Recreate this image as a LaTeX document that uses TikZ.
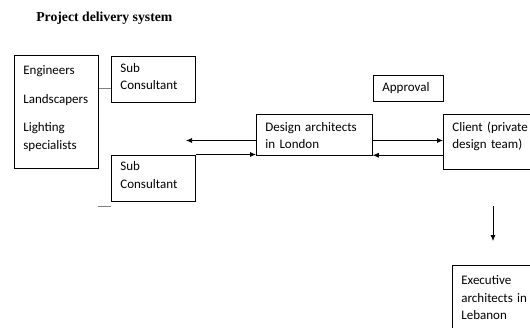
\documentclass[tikz,border=0pt]{standalone}
\usepackage{fontspec}
\setmainfont{Carlito}
\newfontfamily\titlefont{Liberation Serif}
\usepackage{tikz}
\usetikzlibrary{arrows.meta}

\begin{document}
\begin{tikzpicture}[x=1pt,y=-1pt,>={Latex[length=6pt,width=5pt]},line width=0.75pt]
        \tikzstyle{box}=[draw=black,anchor=north west,align=left,inner xsep=9pt,inner ysep=0pt,
            font=\fontsize{13}{17.5}\selectfont]
        \tikzstyle{link}=[draw=gray]
        \useasboundingbox (0,0) rectangle (530,327);

        \node[anchor=base west,inner sep=0pt,font=\titlefont\bfseries\fontsize{13.7}{16}\selectfont] (title) at (36,21) {Project delivery system};

        \node[box,text width=66pt,text height=19.5pt,text depth=93.5pt] (team) at (14,55) {Engineers\\[11pt]Landscapers\\[11pt]Lighting\\specialists};
        \node[box,text width=66pt,text height=16pt,text depth=30pt] (sub1) at (111,56) {Sub\\Consultant};
        \node[box,text width=66pt,text height=16pt,text depth=30.5pt] (sub2) at (111,154.5) {Sub\\Consultant};
        \node[box,text width=98pt,text height=17pt,text depth=23.5pt] (design) at (256,114) {Design architects\\in London};
        \node[box,text width=52pt,text height=16pt,text depth=10pt] (approval) at (373,75) {Approval};
        \node[box,text width=100pt,text height=17pt,text depth=38pt] (client) at (443,114) {Client (private\\design team)};
        \node[box,text width=90pt,text height=19.5pt,text depth=70pt] (exec) at (452,265) {Executive\\architects in\\Lebanon};

        \coordinate (tipL) at (186,140.5);
        \coordinate (down1) at (493,206);
        \coordinate (down2) at (493,241);
        \coordinate (mark1) at (98,206);
        \coordinate (mark2) at (111,206);

        \draw[link] ([yshift=-33.5pt]team.north east) -- ([yshift=-33.5pt]team.north east -| sub1.west);
        \draw[->] (design.west |- tipL) -- (tipL);
        \draw[->] (sub2.north east) -- (sub2.north east -| design.west);
        \draw[->] (design.east |- tipL) -- (client.west |- tipL);
        \draw[->] (client.west |- design.south east) -- (design.south east);
        \draw[->] (down1) -- (down2);
        \draw[link] (mark1) -- (mark2);
\end{tikzpicture}
\end{document}
